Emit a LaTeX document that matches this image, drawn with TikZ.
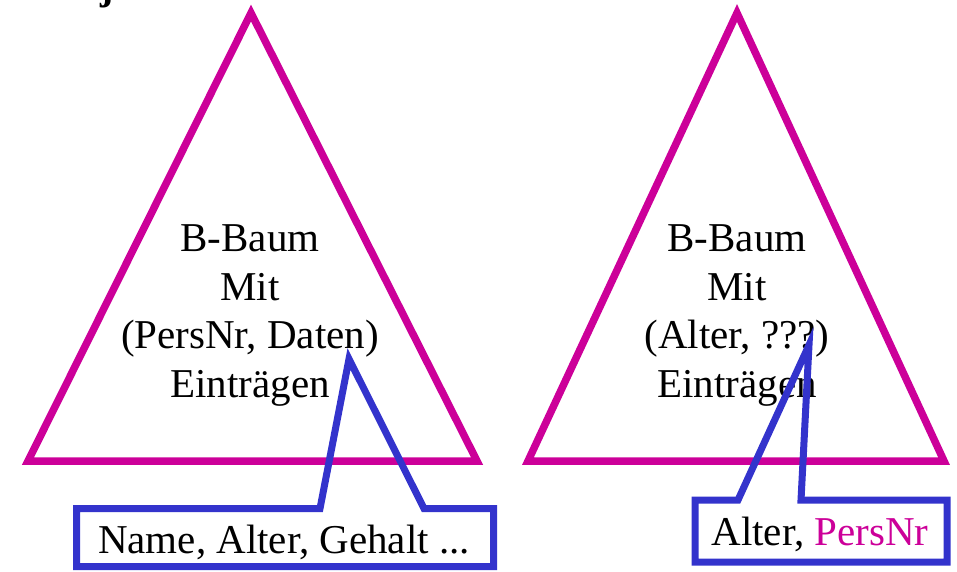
\documentclass[tikz,border=0pt]{standalone}
\usepackage{fontspec}
\setmainfont{Liberation Serif}
\definecolor{mag}{HTML}{CC0099}
\definecolor{blu}{HTML}{3333CC}
\begin{document}
\begin{tikzpicture}[x=1pt,y=-1pt,
  tri/.style={draw=mag,line width=7.5pt,line join=miter},
  callout/.style={draw=blu,line width=7pt,line join=miter},
  lbl/.style={font=\fontsize{41}{48}\selectfont,anchor=base,inner sep=0pt}]
\useasboundingbox (0,0) rectangle (957,571);
\clip (0,0) rectangle (957,571);
% cut-off title glyph
\node[font=\bfseries\fontsize{40}{40}\selectfont,anchor=base,inner sep=0pt] (title) at (107,-1) {j};
% triangles
\draw[tri] (251,13) -- (477,461) -- (28,461) -- cycle;
\draw[tri] (737,13) -- (944,461) -- (528,461) -- cycle;
% left tree text
\node[lbl] (l1) at (250,251) {B-Baum};
\node[lbl] (l2) at (250,300) {Mit};
\node[lbl] (l3) at (250,348) {(PersNr, Daten)};
\node[lbl] (l4) at (250,397) {Einträgen};
% right tree text
\node[lbl] (r1) at (737,251) {B-Baum};
\node[lbl] (r2) at (737,300) {Mit};
\node[lbl] (r3) at (737,348) {(Alter, ???)};
\node[lbl] (r4) at (737,397) {Einträgen};
% callouts
\coordinate (ltip) at (349,359);
\coordinate (rtip) at (809,345);
\draw[callout] (76.5,508.5) -- (320,508.5) -- (ltip) -- (424,508.5) -- (493.5,508.5) -- (493.5,566.5) -- (76.5,566.5) -- cycle;
\draw[callout] (695,500) -- (738,500) -- (rtip) -- (801,500) -- (947,500) -- (947,562) -- (695,562) -- cycle;
\node[lbl] (lc) at (284,553) {Name, Alter, Gehalt ...};
\node[lbl] (rc) at (820,545) {Alter, \textcolor{mag}{PersNr}};
\end{tikzpicture}
\end{document}
